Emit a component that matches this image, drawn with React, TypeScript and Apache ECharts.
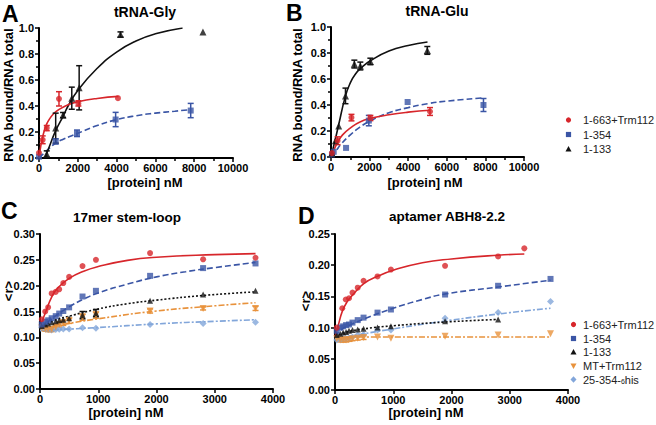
import { useEffect, useRef } from 'react';
import * as echarts from 'echarts';

const FONT = '"Liberation Sans", Arial, Helvetica, sans-serif';
const RED = '#d7262b';
const BLUE = '#3a55a5';
const BLACK = '#111111';
const ORANGE = '#e8923c';
const LBLUE = '#82a6da';

// ---------- Panel A : tRNA-Gly  ([x nM, fraction, error]) ----------
const aRedPts = [[0, 0.04, 0], [190, 0.14, 0.03], [400, 0.23, 0.02], [1030, 0.455, 0.055], [2030, 0.42, 0.02], [4070, 0.46, 0]];
const aBluePts = [[0, 0.01, 0], [860, 0.128, 0.02], [1960, 0.19, 0.025], [3950, 0.296, 0.055], [7820, 0.365, 0.055]];
const aBlackPts = [[400, 0.03, 0.025], [860, 0.23, 0.115], [1240, 0.33, 0.02], [1690, 0.46, 0.085], [2070, 0.54, 0.17], [4200, 0.95, 0.02], [8450, 0.97, 0]];
const aRedFit = [[0, 0], [100, 0.1], [200, 0.17], [350, 0.245], [500, 0.29], [750, 0.34], [1000, 0.37], [1500, 0.41], [2000, 0.433], [3000, 0.458], [4100, 0.474]];
const aBlueFit = [[0, 0], [250, 0.035], [500, 0.07], [860, 0.115], [1250, 0.145], [2000, 0.19], [3000, 0.25], [4000, 0.295], [5000, 0.325], [6000, 0.345], [7000, 0.36], [7820, 0.372]];
const aBlackFit = [[300, 0], [500, 0.075], [860, 0.21], [1240, 0.32], [1500, 0.4], [2000, 0.52], [3000, 0.69], [4000, 0.815], [5000, 0.9], [6000, 0.955], [7400, 1.0]];

// ---------- Panel B : tRNA-Glu ----------
const bRedPts = [[50, 0.03, 0], [340, 0.125, 0.03], [1060, 0.303, 0.025], [2040, 0.3, 0.02], [5130, 0.35, 0.03]];
const bBluePts = [[50, 0.02, 0], [140, 0.04, 0], [780, 0.07, 0], [1960, 0.28, 0.04], [3970, 0.423, 0], [7900, 0.4, 0.05]];
const bBlackPts = [[50, 0.03, 0], [230, 0.125, 0], [400, 0.238, 0], [750, 0.47, 0.06], [1210, 0.715, 0.03], [1520, 0.7, 0.03], [2040, 0.735, 0.025], [4990, 0.82, 0.03]];
const bRedFit = [[0, 0], [200, 0.07], [340, 0.11], [600, 0.17], [1060, 0.23], [1500, 0.27], [2040, 0.297], [3000, 0.325], [4000, 0.345], [5130, 0.36]];
const bBlueFit = [[0, 0], [250, 0.045], [500, 0.095], [1000, 0.17], [1500, 0.23], [2000, 0.275], [3000, 0.34], [4000, 0.38], [5000, 0.41], [6000, 0.43], [7900, 0.455]];
const bBlackFit = [[0, 0], [230, 0.14], [400, 0.25], [750, 0.47], [1000, 0.57], [1250, 0.635], [1600, 0.69], [2040, 0.74], [3000, 0.815], [4000, 0.858], [5000, 0.885]];

// ---------- Panel C : 17mer stem-loop ----------
const cX = [30, 90, 140, 200, 270, 330, 400, 500, 730, 960, 1890, 2800, 3700];
const cRed = [0.135, 0.15, 0.158, 0.185, 0.188, 0.193, 0.205, 0.217, 0.238, 0.25, 0.263, 0.251, 0.254];
const cBlue = [0.125, 0.13, 0.133, 0.137, 0.141, 0.146, 0.151, 0.158, 0.179, 0.19, 0.219, 0.234, 0.243];
const cBlack = [0.122, 0.125, 0.127, 0.129, 0.131, 0.133, 0.134, 0.137, 0.143, 0.147, 0.171, 0.183, 0.19];
const cBlackErr = [0, 0, 0, 0, 0, 0, 0, 0, 0.007, 0.007, 0, 0, 0];
const cOrange = [0.118, 0.116, 0.115, 0.115, 0.12, 0.125, 0.128, 0.132, 0.139, 0.143, 0.151, 0.156, 0.156];
const cOrangeErr = [0, 0.004, 0.004, 0.004, 0.005, 0.005, 0.005, 0.005, 0.006, 0.006, 0.004, 0.003, 0.004];
const cLblue = [0.119, 0.116, 0.115, 0.114, 0.115, 0.1155, 0.116, 0.116, 0.1187, 0.1175, 0.125, 0.127, 0.129];
const cRedFit = [[0, 0.12], [100, 0.15], [200, 0.178], [300, 0.195], [500, 0.214], [750, 0.228], [1000, 0.237], [1500, 0.249], [2000, 0.255], [3000, 0.26], [3700, 0.262]];
const cBlueFit = [[0, 0.118], [250, 0.14], [500, 0.159], [750, 0.174], [1000, 0.186], [1500, 0.203], [2000, 0.217], [2500, 0.227], [3000, 0.235], [3700, 0.245]];
const cBlackFit = [[0, 0.12], [250, 0.133], [500, 0.141], [1000, 0.155], [1500, 0.165], [2000, 0.172], [2800, 0.181], [3700, 0.188]];
const cOrangeFit = [[0, 0.117], [500, 0.127], [1000, 0.136], [2000, 0.151], [3000, 0.161], [3700, 0.167]];
const cLblueFit = [[0, 0.113], [1000, 0.119], [2000, 0.126], [3000, 0.131], [3700, 0.134]];

// ---------- Panel D : aptamer ABH8-2.2 ----------
const dRedX = [30, 125, 185, 240, 300, 390, 490, 730, 960, 1890, 2800, 3250];
const dRed = [0.1, 0.131, 0.145, 0.147, 0.156, 0.164, 0.175, 0.182, 0.193, 0.199, 0.214, 0.227];
const dX = [30, 90, 140, 190, 240, 300, 390, 490, 730, 960, 1890, 2800, 3700];
const dBlue = [0.095, 0.1, 0.102, 0.104, 0.105, 0.108, 0.112, 0.116, 0.124, 0.129, 0.153, 0.167, 0.178];
const dBlack = [0.088, 0.09, 0.092, 0.093, 0.095, 0.096, 0.097, 0.098, 0.1, 0.102, 0.11, 0.113];
const dOrange = [0.082, 0.08, 0.08, 0.08, 0.081, 0.082, 0.083, 0.084, 0.085, 0.083, 0.086, 0.088, 0.09];
const dOrangeErr = [0, 0.003, 0.003, 0.003, 0.003, 0.003, 0.003, 0.003, 0, 0, 0, 0, 0];
const dLblue = [0.08, 0.081, 0.082, 0.082, 0.083, 0.085, 0.088, 0.089, 0.096, 0.096, 0.115, 0.124, 0.142];
const dRedFit = [[0, 0.085], [60, 0.105], [125, 0.126], [200, 0.14], [300, 0.152], [500, 0.171], [750, 0.183], [1000, 0.192], [1500, 0.204], [2000, 0.21], [2800, 0.216], [3250, 0.218]];
const dBlueFit = [[0, 0.085], [100, 0.096], [300, 0.106], [500, 0.114], [1000, 0.131], [1500, 0.145], [1900, 0.154], [2800, 0.165], [3700, 0.176]];
const dBlackFit = [[0, 0.086], [200, 0.093], [500, 0.098], [1000, 0.103], [1900, 0.109], [2800, 0.113]];
const dOrangeFit = [[0, 0.085], [3700, 0.085]];
const dLblueFit = [[0, 0.082], [1000, 0.098], [2000, 0.112], [3000, 0.124], [3700, 0.131]];

// tick labels / titles
const panelTitles = ['tRNA-Gly', 'tRNA-Glu', '17mer stem-loop', 'aptamer ABH8-2.2'];
const panelLetters = ['A', 'B', 'C', 'D'];
const legendTop = ['1-663+Trm112', '1-354', '1-133'];
const legendBottom = ['1-663+Trm112', '1-354', '1-133', 'MT+Trm112', '25-354-{s|6}his'];

const zip = (xs: number[], ys: number[], es?: number[]) => ys.map((y, i) => [xs[i], y, es ? es[i] : 0]);

function xAx(gi: number, max: number, interval: number, minor: boolean) {
  return {
    type: 'value', gridIndex: gi, min: 0, max, interval,
    axisLine: { show: true, onZero: false, lineStyle: { color: '#000', width: 2 } },
    axisTick: { show: true, length: 4, lineStyle: { color: '#000', width: 1.5 } },
    minorTick: { show: minor, splitNumber: 2, length: 3, lineStyle: { color: '#000', width: 1.5 } },
    axisLabel: { color: '#000', fontSize: 11, fontWeight: 'bold', fontFamily: FONT, margin: 4, formatter: (v: number) => String(v) },
    splitLine: { show: false }, minorSplitLine: { show: false },
  };
}
function yAx(gi: number, max: number, interval: number, minor: boolean, dec: number) {
  return {
    type: 'value', gridIndex: gi, min: 0, max, interval,
    axisLine: { show: true, onZero: false, lineStyle: { color: '#000', width: 2 } },
    axisTick: { show: true, length: 4, lineStyle: { color: '#000', width: 1.5 } },
    minorTick: { show: minor, splitNumber: 2, length: 3, lineStyle: { color: '#000', width: 1.5 } },
    axisLabel: { color: '#000', fontSize: 11, fontWeight: 'bold', fontFamily: FONT, margin: 5, formatter: (v: number) => v.toFixed(dec) },
    splitLine: { show: false }, minorSplitLine: { show: false },
  };
}

function fit(gi: number, data: number[][], color: string, type: any) {
  return {
    type: 'line', xAxisIndex: gi, yAxisIndex: gi, data, smooth: 0.5,
    showSymbol: false, symbol: 'none', silent: true, z: 2,
    lineStyle: { color, width: 1.6, type },
  };
}
function pts(gi: number, data: number[][], color: string, symbol: string, size: number, rotate = 0) {
  return {
    type: 'scatter', xAxisIndex: gi, yAxisIndex: gi, data: data.map((p) => [p[0], p[1]]),
    symbol, symbolSize: size, symbolRotate: rotate, itemStyle: { color }, silent: true, z: 5,
  };
}
function errs(gi: number, data: number[][], color: string) {
  return {
    type: 'custom', xAxisIndex: gi, yAxisIndex: gi, silent: true, z: 4, clip: false,
    data: data.filter((p) => p[2] > 0),
    renderItem: (_p: any, api: any) => {
      const x = api.value(0), y = api.value(1), e = api.value(2);
      const t = api.coord([x, y + e]);
      const b = api.coord([x, y - e]);
      const w = 3;
      const st = { stroke: color, lineWidth: 1.5 };
      return {
        type: 'group',
        children: [
          { type: 'line', shape: { x1: t[0], y1: t[1], x2: b[0], y2: b[1] }, style: st },
          { type: 'line', shape: { x1: t[0] - w, y1: t[1], x2: t[0] + w, y2: t[1] }, style: st },
          { type: 'line', shape: { x1: b[0] - w, y1: b[1], x2: b[0] + w, y2: b[1] }, style: st },
        ],
      };
    },
  };
}

function txt(text: string, x: number, y: number, size: number, o: any = {}) {
  const align = o.align || 'center';
  return {
    type: 'text', x, y, rotation: o.rot || 0, silent: true, z: 10,
    style: {
      text, fontSize: size, fontWeight: o.weight || 'bold', fontFamily: FONT, fill: o.color || '#000',
      align, verticalAlign: 'middle', textAlign: align, textVerticalAlign: 'middle', rich: o.rich,
    },
  };
}

function marker(kind: string, cx: number, cy: number, color: string) {
  if (kind === 'circle') return { type: 'circle', shape: { cx, cy, r: 2.6 }, style: { fill: color }, silent: true };
  if (kind === 'rect') return { type: 'rect', shape: { x: cx - 2.6, y: cy - 2.6, width: 5.2, height: 5.2 }, style: { fill: color }, silent: true };
  if (kind === 'tri') return { type: 'polygon', shape: { points: [[cx, cy - 3], [cx + 3, cy + 2.5], [cx - 3, cy + 2.5]] }, style: { fill: color }, silent: true };
  if (kind === 'itri') return { type: 'polygon', shape: { points: [[cx, cy + 3], [cx + 3, cy - 2.5], [cx - 3, cy - 2.5]] }, style: { fill: color }, silent: true };
  return { type: 'polygon', shape: { points: [[cx, cy - 3.3], [cx + 3, cy], [cx, cy + 3.3], [cx - 3, cy]] }, style: { fill: color }, silent: true };
}

export default function App() {
  const ref = useRef<HTMLDivElement>(null);
  useEffect(() => {
    const chart = echarts.init(ref.current!, null, { renderer: 'svg' });
    const DOT: any = [2, 2];
    const DASH: any = [6, 3];
    const DASHDOT: any = [6, 2, 2, 2];

    const cRedPts = zip(cX, cRed);
    const cBluePts = zip(cX, cBlue);
    const cBlackPts = zip(cX, cBlack, cBlackErr);
    const cOrangePts = zip(cX, cOrange, cOrangeErr);
    const cLbluePts = zip(cX, cLblue);
    const dRedPts = zip(dRedX, dRed);
    const dBluePts = zip(dX, dBlue);
    const dBlackPts = zip(dX, dBlack);
    const dOrangePts = zip(dX, dOrange, dOrangeErr);
    const dLbluePts = zip(dX, dLblue);

    const series: any[] = [
      // A
      fit(0, aBlueFit, BLUE, DASH), fit(0, aBlackFit, BLACK, 'solid'), fit(0, aRedFit, RED, 'solid'),
      errs(0, aBluePts, BLUE), errs(0, aBlackPts, BLACK), errs(0, aRedPts, RED),
      pts(0, aBluePts, BLUE, 'rect', 6), pts(0, aBlackPts, BLACK, 'triangle', 7), pts(0, aRedPts, RED, 'circle', 6),
      // B
      fit(1, bBlueFit, BLUE, DASH), fit(1, bBlackFit, BLACK, 'solid'), fit(1, bRedFit, RED, 'solid'),
      errs(1, bBluePts, BLUE), errs(1, bBlackPts, BLACK), errs(1, bRedPts, RED),
      pts(1, bBluePts, BLUE, 'rect', 6), pts(1, bBlackPts, BLACK, 'triangle', 7), pts(1, bRedPts, RED, 'circle', 6),
      // C
      fit(2, cLblueFit, LBLUE, DASHDOT), fit(2, cOrangeFit, ORANGE, DASHDOT), fit(2, cBlackFit, BLACK, DOT),
      fit(2, cBlueFit, BLUE, DASH), fit(2, cRedFit, RED, 'solid'),
      errs(2, cOrangePts, ORANGE), errs(2, cBlackPts, BLACK),
      pts(2, cLbluePts, LBLUE, 'diamond', 7), pts(2, cOrangePts, ORANGE, 'triangle', 7, 180),
      pts(2, cBlackPts, BLACK, 'triangle', 6), pts(2, cBluePts, BLUE, 'rect', 6), pts(2, cRedPts, RED, 'circle', 6),
      // D
      fit(3, dLblueFit, LBLUE, DASHDOT), fit(3, dOrangeFit, ORANGE, DASHDOT), fit(3, dBlackFit, BLACK, DOT),
      fit(3, dBlueFit, BLUE, DASH), fit(3, dRedFit, RED, 'solid'),
      errs(3, dOrangePts, ORANGE),
      pts(3, dLbluePts, LBLUE, 'diamond', 7), pts(3, dOrangePts, ORANGE, 'triangle', 7, 180),
      pts(3, dBlackPts, BLACK, 'triangle', 6), pts(3, dBluePts, BLUE, 'rect', 6), pts(3, dRedPts, RED, 'circle', 6),
    ];

    const colorsTop = [RED, BLUE, BLACK];
    const kindsTop = ['circle', 'rect', 'tri'];
    const yTop = [120, 134.5, 149];
    const colorsBot = [RED, BLUE, BLACK, ORANGE, LBLUE];
    const kindsBot = ['circle', 'rect', 'tri', 'itri', 'dia'];
    const yBot = [324.5, 338.5, 352, 366, 379.5];

    const graphic: any[] = [
      txt(panelLetters[0], 2, 13.5, 23, { align: 'left' }),
      txt(panelLetters[1], 286, 12.5, 23, { align: 'left' }),
      txt(panelLetters[2], 1, 211, 23, { align: 'left' }),
      txt(panelLetters[3], 298, 216, 23, { align: 'left' }),
      txt(panelTitles[0], 145, 12, 14),
      txt(panelTitles[1], 437, 11, 14),
      txt(panelTitles[2], 127, 217, 13.5),
      txt(panelTitles[3], 447, 216, 13.5),
      txt('RNA bound/RNA total', 8, 95, 13, { rot: Math.PI / 2 }),
      txt('RNA bound/RNA total', 297, 95, 13, { rot: Math.PI / 2 }),
      txt('<r>', 8, 291, 13, { rot: Math.PI / 2 }),
      txt('<r>', 305, 301, 13, { rot: Math.PI / 2 }),
      txt('[protein] nM', 145, 182, 13),
      txt('[protein] nM', 425, 182, 13),
      txt('[protein] nM', 126, 412, 13),
      txt('[protein] nM', 426, 412, 13),
    ];
    legendTop.forEach((name, i) => {
      graphic.push(marker(kindsTop[i], 568.5, yTop[i], colorsTop[i]));
      graphic.push(txt(name, 583, yTop[i], 11, { align: 'left', weight: 'normal', color: '#222' }));
    });
    legendBottom.forEach((name, i) => {
      graphic.push(marker(kindsBot[i], 573.5, yBot[i], colorsBot[i]));
      graphic.push(txt(name, 583, yBot[i], 11, {
        align: 'left', weight: 'normal', color: '#222',
        rich: { s: { fontSize: 7, fontFamily: FONT, fill: '#222', color: '#222', verticalAlign: 'bottom', padding: [4, 0, 0, 0] } },
      }));
    });

    chart.setOption({
      animation: false,
      backgroundColor: '#ffffff',
      textStyle: { fontFamily: FONT },
      grid: [
        { left: 39, top: 28, width: 194, height: 130 },
        { left: 331, top: 27, width: 193, height: 130 },
        { left: 40, top: 234, width: 233, height: 155 },
        { left: 335, top: 234, width: 233, height: 156 },
      ],
      xAxis: [xAx(0, 10000, 2000, true), xAx(1, 10000, 2000, true), xAx(2, 4000, 1000, false), xAx(3, 4000, 1000, false)],
      yAxis: [yAx(0, 1, 0.2, true, 1), yAx(1, 1, 0.2, true, 1), yAx(2, 0.3, 0.05, false, 2), yAx(3, 0.25, 0.05, false, 2)],
      series,
      graphic,
    });
    return () => chart.dispose();
  }, []);
  return <div ref={ref} style={{ position: 'absolute', left: 0, top: 0, width: 656, height: 425, background: '#fff' }} />;
}
